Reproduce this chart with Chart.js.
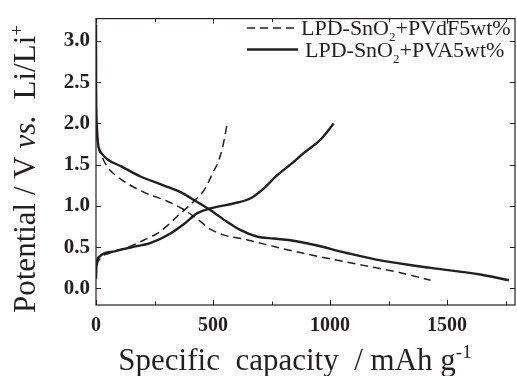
<!DOCTYPE html>
<html>
<head>
<meta charset="utf-8">
<script src="https://cdn.jsdelivr.net/npm/chart.js@4.4.1/dist/chart.umd.min.js"></script>
<style>
  html, body { margin: 0; padding: 0; background: #fff; }
  canvas { display: block; }
</style>
</head>
<body>
<canvas id="cap" width="517" height="376"></canvas>
<script>
// ── data (capacity mAh/g, potential V) ──
const seriesLabels = ['LPD-SnO2+PVdF5wt%', 'LPD-SnO2+PVA5wt%'];

const pvdfDisCap = [0, 3, 10, 25, 47, 103, 202, 302, 373, 438, 488, 544, 644, 787, 930, 1143, 1286, 1429];
const pvdfDisV   = [2.2, 1.9, 1.72, 1.6, 1.48, 1.33, 1.17, 1.06, 0.96, 0.83, 0.72, 0.65, 0.59, 0.49, 0.40, 0.28, 0.20, 0.10];

const pvdfChgCap = [0, 3, 17, 60, 145, 188, 237, 274, 308, 345, 416, 466, 502, 520, 540, 562];
const pvdfChgV   = [0.12, 0.25, 0.36, 0.43, 0.51, 0.565, 0.63, 0.69, 0.77, 0.87, 1.05, 1.21, 1.42, 1.52, 1.70, 2.02];

const pvaDisCap = [0, 0.5, 2, 4, 8.5, 15, 23, 51, 108, 188, 288, 373, 431, 488, 559, 616, 687, 758, 830, 930, 1072, 1215, 1429, 1642, 1764];
const pvaDisV   = [3.2, 2.5, 2.1, 1.95, 1.76, 1.68, 1.64, 1.56, 1.48, 1.36, 1.25, 1.15, 1.05, 0.95, 0.81, 0.71, 0.63, 0.605, 0.585, 0.53, 0.43, 0.34, 0.25, 0.17, 0.10];

const pvaChgCap = [0, 1, 5, 17, 30, 80, 151, 231, 320, 380, 431, 488, 587, 659, 716, 773, 830, 887, 958, 994, 1015];
const pvaChgV   = [0.12, 0.22, 0.34, 0.39, 0.42, 0.45, 0.50, 0.55, 0.67, 0.79, 0.91, 0.97, 1.03, 1.09, 1.21, 1.37, 1.50, 1.64, 1.80, 1.92, 2.0];

const xTicks = [0, 500, 1000, 1500];
const xMinorTicks = [250, 750, 1250, 1750];
const yTicks = [0, 0.5, 1.0, 1.5, 2.0, 2.5, 3.0];

const SERIF = '"Liberation Serif", "Times New Roman", serif';
const INK = '#231f20';

const pts = (xs, ys) => xs.map((x, i) => ({ x: x, y: ys[i] }));
const dashStyle = { borderColor: INK, borderWidth: 1.5, borderDash: [8, 5] };
const solidStyle = { borderColor: INK, borderWidth: 2.4, borderDash: [] };

// draw text made of pieces (italic, sub/superscript)
function drawRich(c, parts, x, y, align) {
  let w = 0;
  parts.forEach(p => { c.font = p.font; w += c.measureText(p.t).width; });
  let cx = align === 'center' ? x - w / 2 : x;
  parts.forEach(p => {
    c.font = p.font;
    c.fillText(p.t, cx, y + (p.dy || 0));
    cx += c.measureText(p.t).width;
  });
}

const framePlugin = {
  id: 'frame',
  afterDraw(chart) {
    const c = chart.ctx, a = chart.chartArea;
    const xs = chart.scales.x, ys = chart.scales.y;
    c.save();
    c.strokeStyle = INK;
    c.lineWidth = 1.2;
    c.strokeRect(a.left, a.top, a.right - a.left, a.bottom - a.top);
    c.lineWidth = 1;
    c.beginPath();
    xTicks.concat(xMinorTicks).forEach(v => {
      const len = xTicks.includes(v) ? 5 : 3.5;
      const px = Math.round(xs.getPixelForValue(v)) + 0.5;
      c.moveTo(px, a.bottom); c.lineTo(px, a.bottom - len);
      c.moveTo(px, a.top); c.lineTo(px, a.top + len);
    });
    yTicks.forEach(v => {
      const py = Math.round(ys.getPixelForValue(v)) + 0.5;
      c.moveTo(a.left, py); c.lineTo(a.left + 5, py);
      c.moveTo(a.right, py); c.lineTo(a.right - 5, py);
    });
    c.stroke();

    // legend
    c.fillStyle = INK;
    c.textBaseline = 'alphabetic';
    const fs = 22;
    const rows = [
      { y: 28, x0: 247, x1: 294, ds: chart.data.datasets[0] },
      { y: 49.5, x0: 247, x1: 298, ds: chart.data.datasets[2] }
    ];
    rows.forEach(r => {
      c.strokeStyle = INK;
      c.lineWidth = r.ds.borderWidth;
      c.setLineDash(r.ds.borderDash);
      c.beginPath(); c.moveTo(r.x0, r.y); c.lineTo(r.x1, r.y); c.stroke();
      c.setLineDash([]);
      const m = r.ds.label.match(/^(.*SnO)(2)(.*)$/);
      drawRich(c, [
        { t: m[1], font: fs + 'px ' + SERIF },
        { t: m[2], font: Math.round(fs * 0.6) + 'px ' + SERIF, dy: 6 },
        { t: m[3], font: fs + 'px ' + SERIF }
      ], r.x1 + 7, r.y + 7, 'left');
    });

    // axis titles
    const tf = 31;
    drawRich(c, [
      { t: 'Specific  capacity  / mAh g', font: tf + 'px ' + SERIF },
      { t: '-1', font: Math.round(tf * 0.6) + 'px ' + SERIF, dy: -12 }
    ], 295, 370, 'center');

    c.translate(35, 169);
    c.rotate(-Math.PI / 2);
    drawRich(c, [
      { t: 'Potential / V ', font: tf + 'px ' + SERIF },
      { t: 'vs.', font: 'italic ' + tf + 'px ' + SERIF },
      { t: '  Li/Li', font: tf + 'px ' + SERIF },
      { t: '+', font: Math.round(tf * 0.6) + 'px ' + SERIF, dy: -12 }
    ], 0, 0, 'center');
    c.restore();
  }
};

new Chart(document.getElementById('cap'), {
  type: 'line',
  data: {
    datasets: [
      Object.assign({ label: seriesLabels[0], data: pts(pvdfDisCap, pvdfDisV) }, dashStyle),
      Object.assign({ label: seriesLabels[0] + ' charge', data: pts(pvdfChgCap, pvdfChgV) }, dashStyle),
      Object.assign({ label: seriesLabels[1], data: pts(pvaDisCap, pvaDisV) }, solidStyle),
      Object.assign({ label: seriesLabels[1] + ' charge', data: pts(pvaChgCap, pvaChgV) }, solidStyle)
    ]
  },
  options: {
    responsive: false,
    animation: false,
    devicePixelRatio: 1,
    layout: { padding: { top: 13, right: 2, left: 0, bottom: 0 } },
    elements: {
      point: { radius: 0 },
      line: { cubicInterpolationMode: 'monotone', fill: false }
    },
    plugins: { legend: { display: false }, tooltip: { enabled: false } },
    scales: {
      x: {
        type: 'linear', min: 0, max: 1790,
        afterBuildTicks: s => { s.ticks = xTicks.map(v => ({ value: v })); },
        afterFit: s => { s.height = 71; },
        grid: { display: false, drawTicks: false },
        border: { display: false },
        ticks: { padding: 9, color: INK, maxRotation: 0, callback: v => String(v), font: { family: SERIF, size: 20, weight: 'bold' } }
      },
      y: {
        type: 'linear', min: -0.2, max: 3.27,
        afterBuildTicks: s => { s.ticks = yTicks.map(v => ({ value: v })); },
        afterFit: s => { s.width = 96; },
        grid: { display: false, drawTicks: false },
        border: { display: false },
        ticks: { padding: 6, color: INK, callback: v => v.toFixed(1), font: { family: SERIF, size: 21, weight: 'bold' } }
      }
    }
  },
  plugins: [framePlugin]
});
</script>
</body>
</html>
